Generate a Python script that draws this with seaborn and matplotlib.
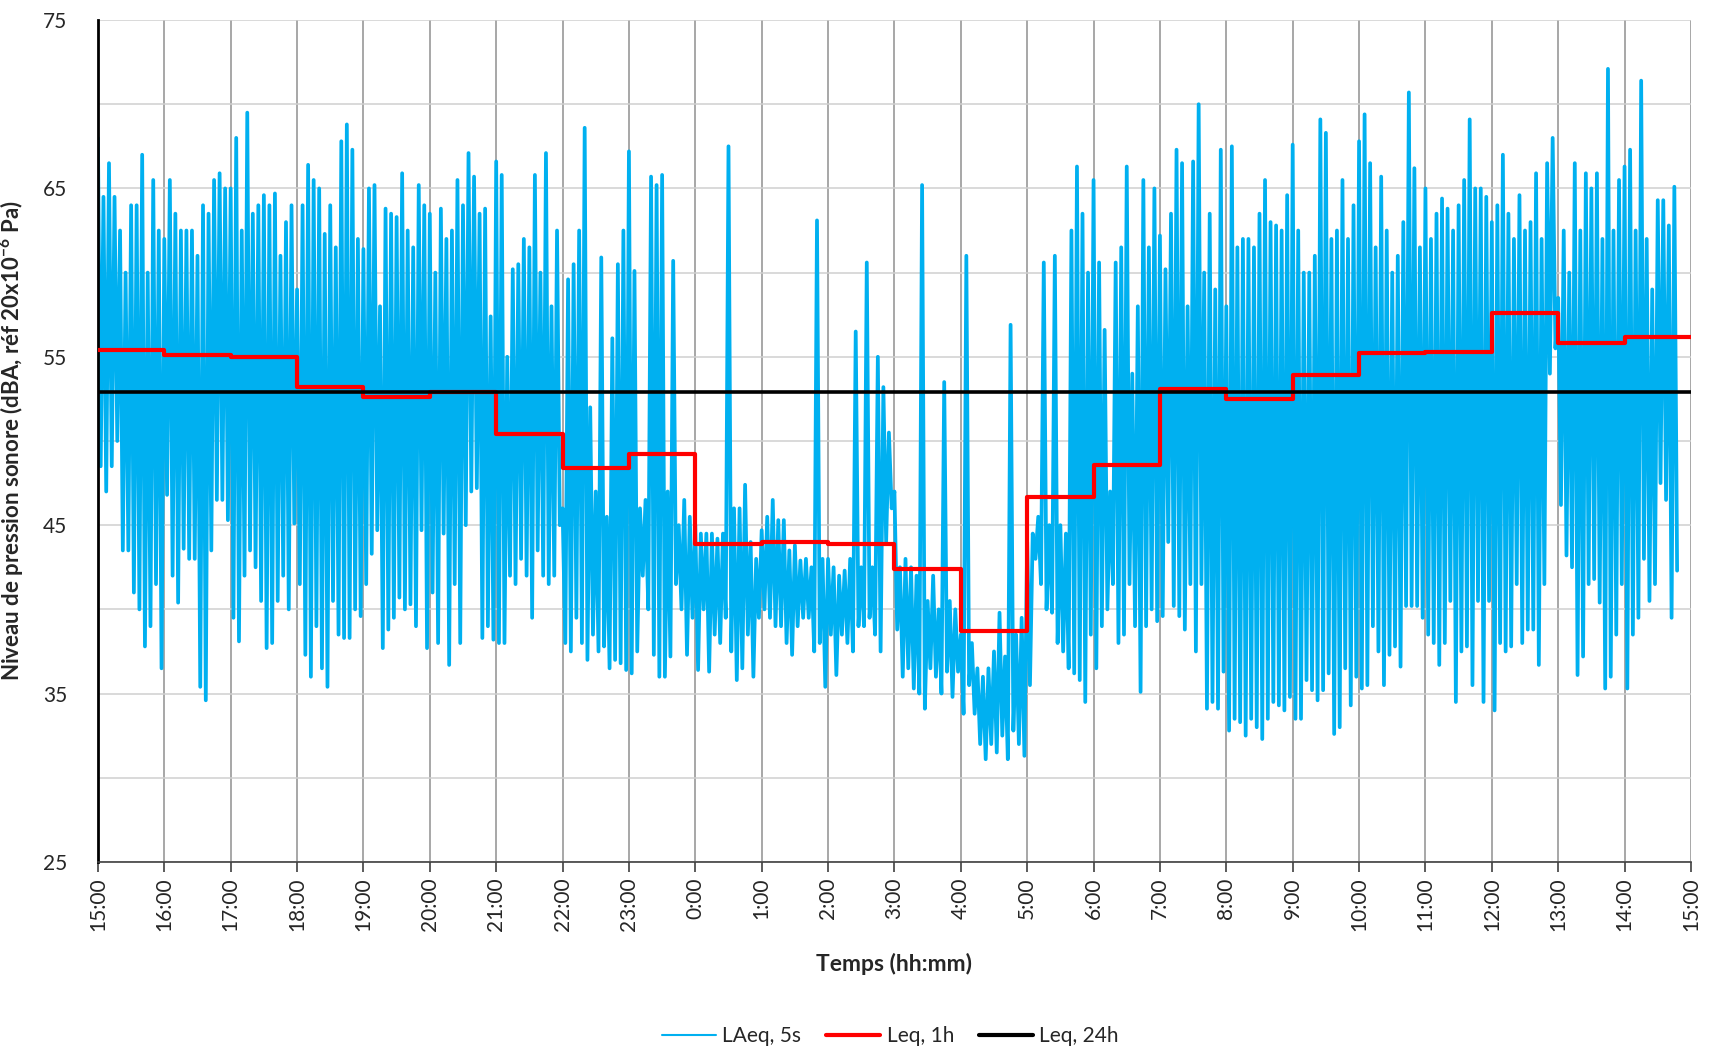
import numpy as np
import pandas as pd
import seaborn as sns
import matplotlib.pyplot as plt
import matplotlib.dates as mdates
from matplotlib.lines import Line2D
from matplotlib.ticker import FuncFormatter

# LAeq 5s : enveloppe, tranches de 5 min (pic puis creux), 15:00 -> 14:50
pics = [
    68, 64.5, 66.5, 64.5, 62.5, 60, 64, 64, 67, 60, 65.5, 62.5,          # 15h
    62, 65.5, 63.5, 62.5, 62.5, 62.5, 61, 64, 63.5, 65.5, 65.9, 65,      # 16h
    65, 68, 62.5, 69.5, 63.5, 64, 64.6, 64, 64.7, 61, 63, 64,            # 17h
    59, 64, 66.4, 65.5, 65, 62.3, 64, 61.5, 67.8, 68.8, 67.3, 62,        # 18h
    61.4, 65, 65.2, 58, 63.8, 63.5, 63.3, 65.9, 62.5, 61.5, 65.2, 64,    # 19h
    63.5, 60, 63.8, 62, 62.5, 65.5, 64, 67.1, 65.7, 63.5, 63.8, 57.4,    # 20h
    66.6, 65.8, 55, 60.2, 60.5, 62, 61.5, 65.8, 60, 67.1, 58, 62.5,      # 21h
    46, 59.6, 60.5, 62.5, 68.6, 52, 47, 60.9, 45.5, 56.1, 60.5, 62.5,    # 22h
    67.2, 60.1, 46, 46.5, 65.7, 65.2, 65.8, 47, 60.7, 45, 46.5, 45.5,    # 23h
    45, 44.5, 44.5, 44.5, 44.2, 44.5, 67.5, 46, 46, 47.4, 44, 43,        # 0h
    44.7, 45.5, 46.5, 45.3, 45.3, 43.5, 43.8, 42.9, 43, 42.5, 63.1, 43,  # 1h
    43, 42.5, 42, 42.3, 43, 56.5, 42.5, 60.6, 42.5, 55, 53.2, 50.5,      # 2h
    47, 42.5, 43, 42.5, 42, 65.2, 40.5, 42, 40, 53.5, 40.5, 40,          # 3h
    38.5, 61, 38, 36.5, 36, 36.5, 37.5, 39.8, 37.2, 56.9, 38.5, 39.5,    # 4h
    44, 44.5, 45.5, 60.6, 45, 61, 45, 44.5, 62.5, 66.3, 63.5, 60,        # 5h
    65.5, 60.6, 56.6, 47, 60.6, 61.5, 66.3, 54, 58, 65.5, 61.5, 65,      # 6h
    62.2, 60.2, 63.5, 67.3, 66.5, 58, 66.6, 70, 60, 63.5, 59, 67.3,      # 7h
    58, 67.5, 61.5, 62, 62, 61.5, 63.5, 65.5, 63, 62.8, 62.5, 64.6,      # 8h
    67.6, 62.5, 60, 60, 61, 69.1, 68.3, 62, 62.5, 65.5, 62, 64,          # 9h
    67.8, 69.4, 66.5, 61.5, 65.7, 62.5, 60, 61, 63, 70.7, 66.2, 61.5,    # 10h
    65, 62, 63.5, 64.4, 63.8, 62.5, 64, 65.5, 69.1, 65, 65, 64.5,        # 11h
    63, 64, 67, 63.5, 62, 64.6, 62.5, 63, 65.9, 62, 66.5, 68,            # 12h
    58.5, 62.5, 60, 66.5, 62.5, 65.9, 65, 65.9, 62, 72.1, 62.5, 65.5,    # 13h
    66.3, 67.3, 62.5, 71.4, 62, 59, 64.3, 64.3, 62.8, 65.1,              # 14h
]
creux = [
    48.5, 47, 48.5, 50, 43.5, 43.5, 41, 40, 37.8, 39, 41.5, 36.5,        # 15h
    46.8, 42, 40.4, 43.6, 43, 43, 35.4, 34.6, 43.5, 46.5, 46.5, 45.3,    # 16h
    39.5, 38.1, 42, 43.5, 42.5, 40.5, 37.7, 38, 40.5, 42, 40, 45.1,      # 17h
    41.5, 37.3, 36, 39, 36.5, 35.4, 40.5, 38.5, 38.3, 38.3, 40, 39.6,    # 18h
    41.5, 43.3, 44.7, 37.7, 38.8, 39.5, 40.7, 40, 40.3, 39, 44.7, 37.7,  # 19h
    41, 38, 44.5, 36.7, 41.5, 38, 45, 47, 47.2, 38.3, 39, 38.2,          # 20h
    38, 38, 42, 41.5, 43, 42, 39.5, 43.5, 42, 41.5, 42, 45,              # 21h
    38, 37.5, 39.5, 38, 37, 38.5, 37.5, 37.8, 36.5, 37, 36.8, 36.4,      # 22h
    36.2, 37.5, 42, 40, 37.3, 36, 36, 37.2, 41.5, 40, 37.3, 39.5,        # 23h
    36.4, 40, 36.3, 38.5, 38, 39.5, 37.5, 35.8, 36.5, 38.5, 36, 39.5,    # 0h
    40, 39.5, 39, 39, 38, 37.3, 39, 39.5, 39.5, 37.5, 38, 35.4,          # 1h
    38.5, 36.1, 38.5, 38, 37.5, 39, 39, 39.5, 38.5, 37.5, 44, 46,        # 2h
    38.8, 36, 36.5, 35.3, 35, 34.1, 36.5, 36, 35, 36.3, 34.8, 36.3,      # 3h
    33.8, 35.5, 33.8, 32, 31.1, 32, 31.5, 32.5, 31.1, 32.8, 32, 31.3,    # 4h
    35.5, 43, 41.5, 40, 39.8, 38, 37.5, 36.5, 36.2, 35.8, 34.5, 38.5,    # 5h
    36.5, 39, 40, 41.5, 38, 38.5, 41.5, 39, 35.1, 39, 40, 39.3,          # 6h
    39.6, 44, 40.2, 39.6, 38.8, 41.5, 37.5, 41.5, 34.1, 34.5, 34.1, 36.3,  # 7h
    32.8, 33.5, 33.3, 32.5, 33.5, 33, 32.3, 33.5, 34.5, 34.3, 34, 34.8,  # 8h
    33.5, 33.5, 35.8, 35.2, 34.6, 35.2, 36.2, 32.6, 33, 36.5, 34.3, 36,  # 9h
    35.3, 35.5, 39, 37.5, 35.5, 37.3, 37.8, 36.6, 40.2, 40.2, 40.2, 39.5,  # 10h
    38.5, 38, 36.7, 38, 40.5, 34.5, 37.5, 37.8, 35.5, 40.5, 34.5, 40.5,  # 11h
    34, 38, 37.5, 37.8, 41.5, 38, 38.8, 38.8, 36.7, 41.5, 54, 55.5,      # 12h
    46.2, 43.2, 42.5, 36.1, 37.2, 41.5, 41.8, 40.4, 35.3, 36, 38.5, 41.5,  # 13h
    35.3, 38.5, 39.5, 43, 40.5, 41.5, 47.5, 46.5, 39.5, 42.3,            # 14h
]

# Leq 1h, de 15:00 à 14:00
leq_1h = [55.4, 55.1, 55.0, 53.2, 52.6, 52.9, 50.4, 48.4, 49.2, 43.9, 44.0, 43.9,
          42.4, 38.7, 46.7, 48.6, 53.1, 52.5, 53.9, 55.2, 55.3, 57.6, 55.8, 56.15]
leq_24h = 52.9

debut = pd.Timestamp("2021-06-14 15:00")
fin = debut + pd.Timedelta(hours=24)

laeq = pd.DataFrame({
    "temps": pd.date_range(debut, periods=2 * len(pics), freq="150s"),
    "niveau": np.column_stack([pics, creux]).ravel(),
})
horaire = pd.DataFrame({
    "temps": pd.date_range(debut, periods=len(leq_1h) + 1, freq="h"),
    "niveau": leq_1h + [leq_1h[-1]],
})
jour = pd.DataFrame({"temps": [debut, fin], "niveau": [leq_24h, leq_24h]})

sns.set_style("white")
plt.rcParams["font.family"] = ["Lato", "DejaVu Sans"]
plt.rcParams["mathtext.fontset"] = "custom"
plt.rcParams["mathtext.rm"] = "Lato"
plt.rcParams["mathtext.bf"] = "Lato:bold"
plt.rcParams["mathtext.default"] = "bf"

fig, ax = plt.subplots(figsize=(17.12, 10.55), dpi=100)
fig.subplots_adjust(left=0.0572, right=0.9877, top=0.981, bottom=0.183)

sns.lineplot(data=laeq, x="temps", y="niveau", ax=ax, color="#00B0F0", linewidth=2.7,
             estimator=None, sort=False, zorder=2)
sns.lineplot(data=horaire, x="temps", y="niveau", ax=ax, color="#FF0000", linewidth=3,
             estimator=None, drawstyle="steps-post", zorder=3)
sns.lineplot(data=jour, x="temps", y="niveau", ax=ax, color="black", linewidth=2.6,
             estimator=None, zorder=4)

ax.set_xlim(debut, fin)
ax.set_ylim(25, 75)
ax.xaxis.set_major_locator(mdates.HourLocator())
ax.xaxis.set_major_formatter(FuncFormatter(lambda v, p: f"{mdates.num2date(v).hour}:00"))
ax.set_yticks(range(25, 76, 10))
ax.set_yticks(range(30, 75, 10), minor=True)
ax.tick_params(axis="x", rotation=90, labelsize=15, length=7, width=1.2,
               color="#404040", direction="out", bottom=True, pad=4)
ax.tick_params(axis="y", which="both", labelsize=15, length=0, pad=22)

ax.grid(axis="x", color="#a0a0a0", linewidth=1.3)
ax.grid(axis="y", which="both", color="#d0d0d0", linewidth=1.1)
ax.set_axisbelow(True)
for s in ["top", "right"]:
    ax.spines[s].set_visible(False)
ax.spines["left"].set_color("black")
ax.spines["left"].set_linewidth(2)
ax.spines["bottom"].set_color("#404040")
ax.spines["bottom"].set_linewidth(1.2)

ax.set_xlabel("Temps (hh:mm)", fontsize=16.5, fontweight="bold", labelpad=16)
ax.set_ylabel(r"Niveau de pression sonore (dBA, réf 20x10$^{-6}$ Pa)",
              fontsize=16, fontweight="bold", labelpad=12)

# légende avec des traits propres (le trait bleu est plus fin que dans le graphe)
handles = [Line2D([], [], color="#00B0F0", linewidth=1.5),
           Line2D([], [], color="#FF0000", linewidth=3),
           Line2D([], [], color="black", linewidth=3)]
fig.legend(handles, ["LAeq, 5s", "Leq, 1h", "Leq, 24h"], loc="center",
           bbox_to_anchor=(0.52, 0.018), ncol=3, frameon=False, fontsize=15,
           handlelength=2.6, columnspacing=1.2, handletextpad=0.3)

plt.savefig("out.png", dpi=100)
plt.close()
